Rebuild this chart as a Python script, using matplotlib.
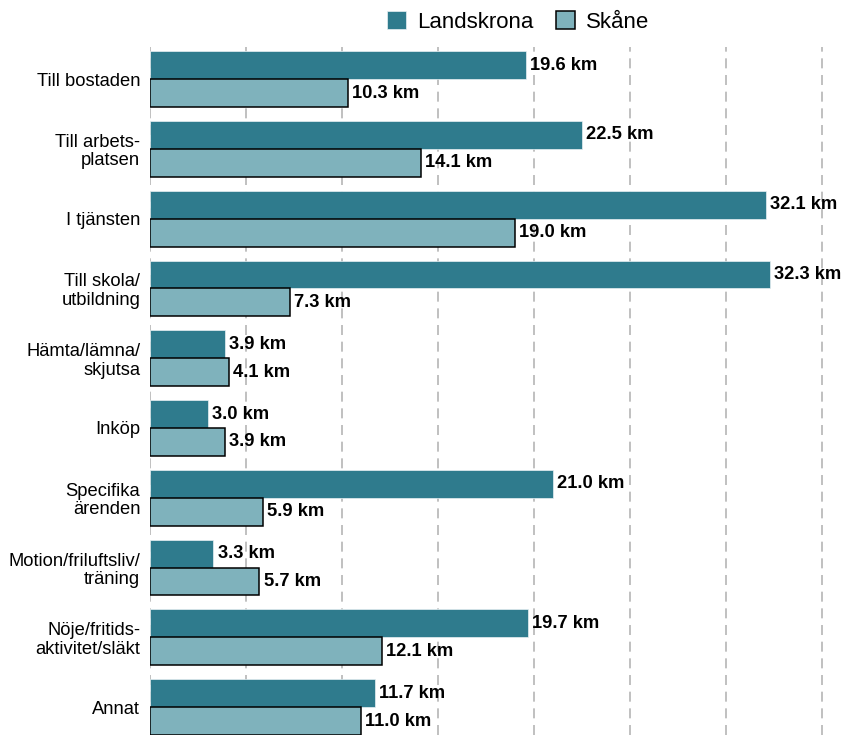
import matplotlib
matplotlib.use("Agg")
import matplotlib.pyplot as plt
import numpy as np

plt.rcParams['font.family'] = ['Liberation Sans', 'DejaVu Sans']

categories = ["Till bostaden", "Till arbets-\nplatsen", "I tjänsten", "Till skola/\nutbildning",
              "Hämta/lämna/\nskjutsa", "Inköp", "Specifika\närenden",
              "Motion/friluftsliv/\nträning", "Nöje/fritids-\naktivitet/släkt", "Annat"]
landskrona = [19.6, 22.5, 32.1, 32.3, 3.9, 3.0, 21.0, 3.3, 19.7, 11.7]
skane = [10.3, 14.1, 19.0, 7.3, 4.1, 3.9, 5.9, 5.7, 12.1, 11.0]
series_names = ["Landskrona", "Skåne"]

c_dark = "#2f7b8d"
c_light = "#7fb2bc"

W, H = 845, 735
fig = plt.figure(figsize=(W/100, H/100), dpi=100)
ax = fig.add_axes([150/W, 0, 1 - 150/W, 1 - 47/H])

y = np.arange(len(categories))
h = 0.4
b1 = ax.barh(y - h/2, landskrona, height=h, color=c_dark, edgecolor="#e8f1f3", linewidth=0.5,
             label=series_names[0], zorder=3)
b2 = ax.barh(y + h/2, skane, height=h, color=c_light, edgecolor="black", linewidth=1.1,
             label=series_names[1], zorder=3)

for bars, vals in ((b1, landskrona), (b2, skane)):
    for rect, v in zip(bars, vals):
        ax.annotate(f"{v:.1f} km", (v, rect.get_y() + rect.get_height()/2),
                    xytext=(3, 0), textcoords="offset points", va="center", ha="left",
                    fontsize=13.2, fontweight="bold", color="black", zorder=4)

ax.set_xlim(0, (W - 150) / 19.2)
ax.set_ylim(9.4, -0.46)
ax.set_xticks(np.arange(0, 36, 5))
ax.set_xticklabels([])
ax.set_yticks(y)
ax.set_yticklabels(categories, fontsize=13.2, linespacing=1.1)
ax.tick_params(axis="both", length=0, pad=7)
ax.grid(axis="x", color="#b5b5b5", linestyle=(0, (6, 4)), linewidth=1.2, zorder=0)
ax.set_axisbelow(True)
for s in ax.spines.values():
    s.set_visible(False)

fig.legend(handles=[b1, b2], labels=series_names, loc="center", bbox_to_anchor=(518/W, 1 - 22/H),
           ncol=2, frameon=False, fontsize=16, handlelength=0.85, handleheight=0.85,
           handletextpad=0.5, columnspacing=1.0, borderaxespad=0)

fig.savefig("out.png", dpi=100)
